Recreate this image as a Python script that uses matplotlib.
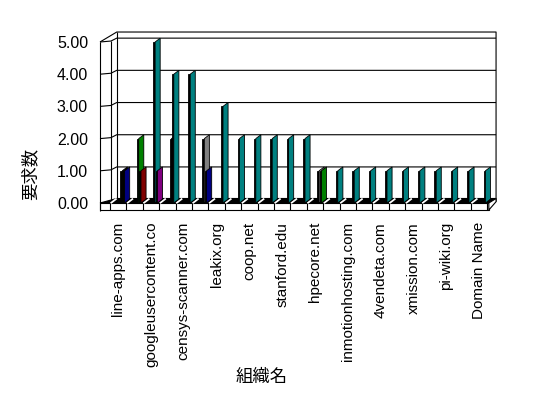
import matplotlib
matplotlib.use("Agg")
import matplotlib.pyplot as plt
from matplotlib.patches import Polygon, Rectangle

plt.rcParams['font.family'] = ['Liberation Sans', 'Noto Sans CJK JP', 'DejaVu Sans']

# ---- data ----
n_cat = 23
tick_labels = ["line-apps.com", "googleusercontent.co", "censys-scanner.com", "leakix.org",
               "coop.net", "stanford.edu", "hpecore.net", "inmotionhosting.com",
               "4vendeta.com", "xmission.com", "pi-wiki.org", "Domain Name"]
y_ticks = [0, 1, 2, 3, 4, 5]

s_black = [1, 0, 0, 2, 0, 0, 0, 0, 0, 0, 0, 0, 0, 0, 0, 0, 0, 0, 0, 0, 0, 0, 0]
s_gray = [0, 0, 0, 0, 0, 2, 0, 0, 0, 0, 0, 0, 1, 0, 0, 0, 0, 0, 0, 0, 0, 0, 0]
s_green = [0, 2, 0, 0, 0, 0, 0, 0, 0, 0, 0, 0, 1, 0, 0, 0, 0, 0, 0, 0, 0, 0, 0]
s_teal = [0, 0, 5, 4, 4, 0, 3, 2, 2, 2, 2, 2, 0, 1, 1, 1, 1, 1, 1, 1, 1, 1, 1]
s_darkred = [0, 1, 0, 0, 0, 0, 0, 0, 0, 0, 0, 0, 0, 0, 0, 0, 0, 0, 0, 0, 0, 0, 0]
s_purple = [0, 0, 1, 0, 0, 0, 0, 0, 0, 0, 0, 0, 0, 0, 0, 0, 0, 0, 0, 0, 0, 0, 0]
s_navy = [1, 0, 0, 0, 0, 1, 0, 0, 0, 0, 0, 0, 0, 0, 0, 0, 0, 0, 0, 0, 0, 0, 0]

series = [(s_black, "#000000"), (s_gray, "#808080"), (s_green, "#008000"),
          (s_teal, "#008080"), (s_darkred, "#800000"), (s_purple, "#800080"),
          (s_navy, "#000080")]

# ---- layout (pixels of the 548x398 picture) ----
W, H = 548, 398
px_left, px_right, px_top, px_bottom = 95, 500, 25, 215
cat0_px, cat_w_px = 110, 16.4
zero_px, unit_px = 203, 32.2

fig = plt.figure(figsize=(W / 100, H / 100), dpi=100)
ax = fig.add_axes([px_left / W, 1 - px_bottom / H,
                   (px_right - px_left) / W, (px_bottom - px_top) / H])
ax.set_xlim((px_left - cat0_px) / cat_w_px, (px_right - cat0_px) / cat_w_px)
ax.set_ylim((zero_px - px_bottom) / unit_px, (zero_px - px_top) / unit_px)
for sp in ax.spines.values():
  sp.set_visible(False)

# 3d box geometry, data units
x_axis = -0.61
x_mid = 0.06
x_back_l = 0.41
x_floor_r = n_cat + 0.1
x_back_r = n_cat + 0.54
dy = 0.12
top_back = 5.31
slab = -0.217
floor_back = 0.14
lw = 0.8
kw = dict(color="black", lw=lw, solid_capstyle="butt", clip_on=False)

# walls
ax.plot([x_back_l, x_back_l], [floor_back, top_back], zorder=1, **kw)
ax.plot([x_mid, x_mid], [0, 5.03], zorder=1, **kw)
ax.plot([x_axis, x_back_l, x_back_r, x_back_r], [5, top_back, top_back, 0.04], zorder=1, **kw)
for v in y_ticks:
  ax.plot([x_axis, x_mid, x_back_l, x_back_r], [v, v + 0.03, v + dy, v + dy], zorder=1, **kw)

# floor
ax.add_patch(Polygon([(x_axis, 0), (x_floor_r, 0), (x_back_r, floor_back), (x_back_l, floor_back)],
                     closed=True, facecolor="black", edgecolor="black", lw=lw, zorder=2))
ax.add_patch(Rectangle((x_axis, slab), x_floor_r - x_axis, -slab,
                       facecolor="white", edgecolor="black", lw=lw, zorder=2))
ax.add_patch(Polygon([(x_floor_r, 0), (x_floor_r, slab), (x_back_r, 0.04), (x_back_r, floor_back)],
                     closed=True, facecolor="white", edgecolor="black", lw=lw, zorder=2))
for i in range(n_cat + 1):
  ax.plot([i, i], [slab, 0], zorder=2.1, **kw)
for i in range(n_cat):
  ax.plot([i + 0.08, i + 0.36], [0.01, 0.12], color="white", lw=1.3, zorder=2.2)
ax.plot([x_axis, x_axis], [slab - 0.03, 5], zorder=2.3, **kw)

# bars: thin black front face + coloured slanted side face
fw, sw, rise = 0.11, 0.31, 0.12
slot_back, slot_front = 0.64, 0.78
z = 3.0
for i in range(n_cat):
  bars = [(vals[i], col) for vals, col in series if vals[i] > 0]
  slots = [slot_front] if len(bars) == 1 else [slot_back, slot_front]
  for (h, col), off in zip(bars, slots):
    x = i + off
    ax.bar(x, h, width=fw, align="edge", color="black", edgecolor="black",
           lw=0.6, zorder=z, clip_on=False)
    ax.add_patch(Polygon([(x + fw, 0), (x + fw, h), (x + fw + sw, h + rise), (x + fw + sw, rise)],
                         closed=True, facecolor=col, edgecolor="black", lw=0.6, zorder=z + 0.001,
                         clip_on=False))
    z += 0.01

# ticks
ax.set_yticks(y_ticks)
ax.set_yticklabels(["%.2f" % v for v in y_ticks])
ax.set_xticks([i + 0.5 for i in range(0, n_cat, 2)])
ax.set_xticklabels(tick_labels, rotation=90)
ax.tick_params(axis="y", length=0, pad=5, labelsize=11.5)
ax.tick_params(axis="x", length=0, pad=5, labelsize=11)

fig.text(262 / W, 1 - 377 / H, "組織名", ha="center", va="center", fontsize=12.5,
         family="Noto Sans CJK JP")
fig.text(30 / W, 1 - 174 / H, "要求数", ha="center", va="center", rotation=90, fontsize=12.5,
         family="Noto Sans CJK JP")

fig.savefig("out.png", dpi=100)
